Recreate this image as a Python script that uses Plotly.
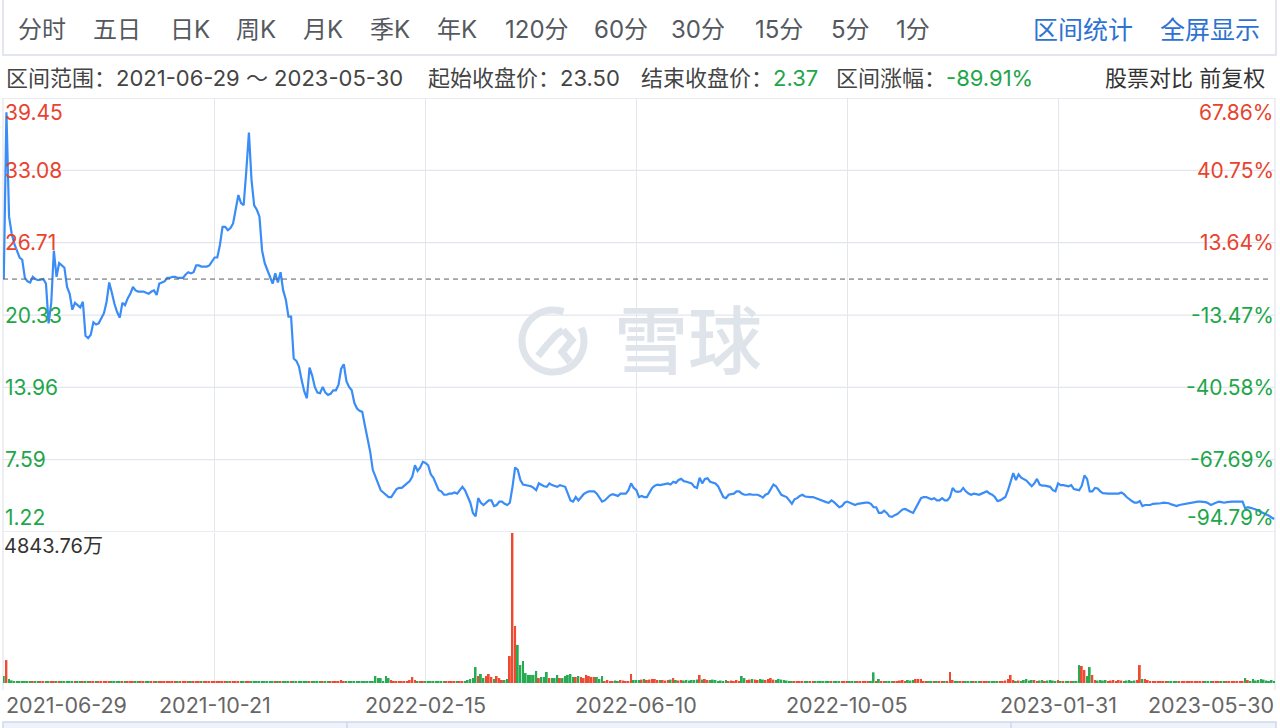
import numpy as np
import pandas as pd
import plotly.graph_objects as go

W, H = 1280, 728

# ---------------- data ----------------
start_date = "2021-06-29"
end_date = "2023-05-30"
market_holidays = [
    "2021-07-05", "2021-09-06", "2021-11-25", "2021-12-24",
    "2022-01-17", "2022-02-21", "2022-04-15", "2022-05-30", "2022-06-20",
    "2022-07-04", "2022-09-05", "2022-11-24", "2022-12-26",
    "2023-01-02", "2023-01-16", "2023-02-20", "2023-04-07", "2023-05-29",
]

close = [
    23.5, 38.2, 29.0, 27.5, 26.6, 26.0, 25.4, 25.2, 23.6, 23.3,
    23.2, 23.7, 23.5, 23.4, 23.45, 23.5, 23.1, 19.6, 21.4, 26.0,
    23.7, 24.9, 24.7, 24.5, 22.8, 22.2, 20.8, 21.4, 21.2, 21.0,
    21.5, 18.5, 18.3, 18.6, 19.7, 19.5, 19.6, 20.0, 20.5, 21.5,
    23.2, 22.3, 21.3, 20.6, 20.1, 21.4, 21.2, 21.8, 22.2, 22.8,
    22.5, 22.4, 22.4, 22.4, 22.3, 22.2, 22.4, 22.5, 22.1, 23.1,
    23.2, 23.3, 23.6, 23.6, 23.7, 23.7, 23.6, 23.6, 23.6, 23.9,
    24.1, 24.0, 24.1, 24.7, 24.7, 24.6, 24.6, 24.6, 24.7, 25.0,
    25.4, 25.4, 26.5, 28.1, 28.1, 27.8, 28.0, 28.4, 29.8, 30.9,
    30.2, 30.0, 33.0, 36.4, 32.2, 30.0, 29.6, 29.0, 26.0, 24.9,
    24.3, 23.6, 23.1, 24.0, 23.2, 24.1, 22.5, 21.7, 20.2, 20.2,
    16.5, 16.3, 15.8, 14.6, 13.6, 13.0, 15.7, 15.0, 14.0, 13.5,
    13.45, 14.0, 13.5, 13.3, 13.4, 13.7, 13.7, 14.2, 15.6, 16.0,
    14.5, 14.0, 13.7, 12.6, 12.1, 11.9, 11.8, 10.6, 9.5, 8.3,
    6.7, 6.0, 5.5, 4.9, 4.7, 4.5, 4.3, 4.3, 4.7, 5.0,
    5.1, 5.1, 5.3, 5.5, 5.7, 6.1, 7.1, 6.6, 6.9, 7.4,
    7.3, 7.1, 6.3, 6.0, 5.5, 4.9, 4.8, 4.5, 4.5, 4.6,
    4.6, 4.7, 4.6, 4.9, 5.2, 4.9, 4.4, 3.8, 2.9, 2.6,
    4.2, 3.8, 3.6, 3.8, 4.0, 4.0, 3.5, 3.6, 3.9, 3.9,
    3.7, 3.6, 3.8, 5.2, 6.9, 6.7, 5.8, 5.4, 5.35, 5.3,
    5.25, 5.1, 4.9, 5.5, 5.35, 5.25, 5.2, 5.5, 5.35, 5.25,
    5.2, 5.35, 5.3, 5.2, 4.6, 4.0, 3.9, 4.3, 4.0, 4.3,
    4.55, 4.7, 4.8, 4.8, 4.8, 4.6, 4.2, 3.9, 4.0, 4.2,
    4.45, 4.55, 4.5, 4.4, 4.6, 4.6, 4.6, 4.9, 5.5, 5.1,
    4.9, 4.3, 4.4, 4.3, 4.3, 4.7, 5.1, 5.3, 5.4, 5.35,
    5.4, 5.45, 5.5, 5.4, 5.65, 5.55, 5.8, 5.9, 5.7, 5.65,
    5.6, 5.5, 5.2, 5.1, 6.0, 5.5, 5.9, 5.95, 5.65, 5.55,
    5.5, 5.25, 4.8, 4.3, 4.2, 4.5, 4.55, 4.6, 4.8, 4.8,
    4.6, 4.5, 4.5, 4.55, 4.5, 4.5, 4.5, 4.4, 4.25, 4.5,
    4.6, 5.0, 5.4, 5.25, 4.9, 4.5, 4.4, 4.3, 4.0, 3.7,
    4.1, 4.2, 4.4, 4.5, 4.35, 4.3, 4.3, 4.3, 4.2, 4.1,
    4.0, 3.9, 3.85, 3.8, 4.0, 3.85, 3.6, 3.4, 3.5, 3.8,
    3.9, 3.8, 3.7, 3.6, 3.7, 3.75, 3.8, 3.8, 3.8, 3.7,
    3.4, 3.4, 2.9, 2.9, 3.1, 2.9, 2.6, 2.55, 2.7, 2.8,
    3.0, 3.2, 3.25, 3.1, 3.0, 2.9, 3.3, 3.7, 4.2, 4.3,
    4.3, 4.2, 4.1, 4.2, 4.0, 4.0, 4.2, 4.0, 4.0, 4.3,
    5.1, 4.8, 4.75, 4.8, 5.1, 4.8, 4.6, 4.5, 4.6, 4.55,
    4.5, 4.6, 4.7, 4.8, 4.6, 4.5, 4.3, 3.95, 4.0, 4.15,
    4.3, 4.9, 5.6, 6.4, 5.8, 6.3, 6.0, 5.9, 5.75, 5.5,
    5.25, 5.5, 5.9, 5.4, 5.3, 5.3, 5.25, 5.2, 4.9, 4.8,
    5.5, 5.35, 5.35, 5.3, 5.25, 5.35, 5.0, 4.95, 4.9, 5.3,
    6.2, 5.9, 4.8, 4.8, 5.1, 5.05, 4.8, 4.65, 4.6, 4.6,
    4.6, 4.6, 4.6, 4.6, 4.7, 4.55, 4.3, 4.1, 3.95, 3.8,
    3.8, 3.95, 3.5, 3.6, 3.6, 3.6, 3.7, 3.7, 3.7, 3.75,
    3.8, 3.8, 3.75, 3.65, 3.55, 3.5, 3.6, 3.65, 3.7, 3.75,
    3.8, 3.85, 3.9, 3.9, 3.9, 3.9, 3.85, 3.75, 3.6, 3.7,
    3.8, 3.9, 3.85, 3.8, 3.85, 3.9, 3.9, 3.9, 3.9, 3.9,
    3.9, 3.3, 3.4, 3.35, 3.3, 3.2, 3.1, 3.0, 2.9, 2.8,
    2.65, 2.5, 2.37,
]

# volume in 万 (10k shares)
volume = [
    230, 740, 130, 85, 60, 65, 45, 40, 50, 45,
    65, 45, 40, 45, 40, 42, 45, 55, 65, 50,
    45, 40, 42, 38, 40, 45, 40, 38, 42, 40,
    45, 65, 45, 40, 38, 40, 42, 38, 40, 45,
    50, 42, 40, 38, 40, 42, 40, 38, 40, 38,
    38, 40, 38, 36, 38, 40, 38, 36, 38, 40,
    38, 36, 38, 40, 36, 38, 36, 38, 40, 38,
    36, 38, 40, 38, 36, 38, 40, 38, 36, 38,
    40, 38, 40, 45, 42, 40, 42, 45, 48, 50,
    45, 42, 50, 55, 50, 45, 42, 45, 48, 45,
    42, 40, 42, 40, 40, 42, 45, 48, 45, 42,
    48, 42, 45, 42, 40, 45, 42, 40, 38, 40,
    40, 38, 40, 38, 40, 42, 45, 40, 97, 45,
    42, 40, 45, 42, 45, 48, 50, 45, 48, 55,
    60, 225, 160, 160, 60, 225, 160, 95, 60, 65,
    50, 40, 50, 65, 95, 195, 100, 60, 65, 60,
    65, 55, 60, 65, 60, 55, 60, 65, 60, 55,
    60, 65, 60, 55, 65, 60, 97, 130, 160, 515,
    225, 290, 160, 225, 290, 195, 130, 225, 160, 97,
    97, 130, 870, 4843.76, 1840, 1230, 580, 710, 320, 260,
    260, 260, 390, 160, 195, 195, 355, 160, 160, 160,
    260, 160, 160, 225, 260, 290, 195, 195, 225, 195,
    160, 260, 225, 195, 195, 195, 130, 225, 65, 97,
    65, 65, 80, 65, 97, 80, 65, 65, 290, 97,
    97, 97, 110, 130, 97, 110, 130, 130, 97, 97,
    97, 80, 97, 110, 160, 97, 80, 97, 80, 97,
    80, 97, 97, 110, 260, 110, 130, 97, 97, 110,
    97, 65, 80, 65, 97, 65, 80, 65, 97, 65,
    225, 160, 97, 110, 130, 110, 97, 130, 110, 97,
    130, 160, 110, 97, 130, 110, 97, 80, 65, 65,
    65, 50, 65, 50, 65, 50, 65, 50, 65, 50,
    65, 50, 65, 50, 65, 65, 50, 65, 50, 65,
    50, 65, 50, 45, 40, 40, 38, 40, 40, 45,
    345, 65, 130, 65, 50, 45, 50, 50, 45, 65,
    80, 97, 65, 97, 80, 97, 130, 130, 130, 65,
    50, 45, 50, 45, 50, 45, 50, 60, 65, 355,
    97, 65, 50, 65, 50, 45, 50, 50, 45, 50,
    45, 50, 45, 50, 45, 50, 55, 50, 55, 65,
    80, 130, 260, 97, 65, 80, 65, 97, 130, 80,
    97, 97, 65, 80, 97, 65, 80, 97, 80, 65,
    97, 65, 65, 65, 60, 65, 60, 65, 580, 550,
    420, 225, 515, 260, 97, 80, 97, 80, 97, 65,
    80, 97, 65, 97, 80, 65, 80, 97, 65, 80,
    97, 580, 130, 130, 97, 65, 50, 65, 50, 65,
    50, 45, 50, 65, 50, 45, 50, 45, 50, 45,
    50, 45, 50, 45, 50, 45, 50, 45, 50, 45,
    50, 45, 50, 45, 50, 45, 50, 60, 65, 60,
    65, 160, 97, 65, 130, 80, 97, 130, 110, 80,
    65, 97, 65,
]

price_ticks = [39.45, 33.08, 26.71, 20.33, 13.96, 7.59, 1.22]
pct_labels = ["67.86%", "40.75%", "13.64%", "-13.47%", "-40.58%", "-67.69%", "-94.79%"]
date_ticks = ["2021-06-29", "2021-10-21", "2022-02-15", "2022-06-10",
              "2022-10-05", "2023-01-31", "2023-05-30"]
base_price = 23.50
end_price = 2.37
period_change = "-89.91%"
vol_max = 4843.76
vol_max_label = "4843.76万"

toolbar_labels = ["分时", "五日", "日K", "周K", "月K", "季K", "年K",
                  "120分", "60分", "30分", "15分", "5分", "1分"]
toolbar_links = ["区间统计", "全屏显示"]

# ---------------- derived ----------------
dates = pd.bdate_range(start_date, end_date, freq="C",
                       holidays=market_holidays).strftime("%Y-%m-%d").tolist()
n = min(len(dates), len(close), len(volume))
dates, close, volume = dates[:n], close[:n], volume[:n]

RED = "#e8432e"
GREEN = "#1ea64a"
BAR_RED = "#ee4a32"
BAR_GREEN = "#27aa50"
LINE = "#3a8cf7"
GRID = "#e4e6ed"
FONT = "Inter, Noto Sans CJK SC, sans-serif"

bar_colors = [BAR_GREEN] + [BAR_RED if close[i] >= close[i - 1] else BAR_GREEN
                            for i in range(1, n)]


def px(x):
    return x / W


def py(y):
    return 1 - y / H


X0, X1 = 3, 1275          # plot left/right
P_TOP, P_BOT = 98, 532    # price pane
V_TOP, V_BOT = 533, 683   # volume pane

fig = go.Figure()
fig.add_trace(go.Bar(
    x=dates, y=volume, marker=dict(color=bar_colors, line=dict(width=0)),
    width=0.72, xaxis="x2", yaxis="y2", name="成交量",
))
fig.add_trace(go.Scatter(
    x=dates, y=close, mode="lines", line=dict(color=LINE, width=2.2),
    xaxis="x", yaxis="y", name="收盘价",
))

xcommon = dict(type="category", range=[-0.3, n - 1 + 0.3], showticklabels=False,
               ticks="", tickvals=date_ticks[1:-1], showgrid=True, gridcolor=GRID,
               gridwidth=1, zeroline=False, showline=False, fixedrange=True,
               domain=[px(X0), px(X1)])

shapes = []
# toolbar box
shapes.append(dict(type="rect", xref="paper", yref="paper",
                   x0=px(3), x1=px(1276), y0=py(55), y1=py(-3),
                   line=dict(color="#e3e6ee", width=2), fillcolor="white", layer="below"))
# horizontal grid lines
for v in price_ticks:
    shapes.append(dict(type="line", xref="paper", yref="y", x0=px(X0), x1=px(X1),
                       y0=v, y1=v, line=dict(color=GRID, width=1.3), layer="below"))
# base price dashed line
shapes.append(dict(type="line", xref="paper", yref="y", x0=px(X0), x1=px(1270),
                   y0=base_price, y1=base_price,
                   line=dict(color="#5e5e5e", width=1, dash="5px,4px")))
# borders
for xb in (X0, X1):
    shapes.append(dict(type="line", xref="paper", yref="paper", x0=px(xb), x1=px(xb),
                       y0=py(690), y1=py(P_TOP), line=dict(color=GRID, width=1.3),
                       layer="below"))
# bottom navigator strip
shapes.append(dict(type="rect", xref="paper", yref="paper", x0=px(3), x1=px(1276),
                   y0=py(735), y1=py(722), line=dict(color="#cfd9ea", width=1.5),
                   fillcolor="#eef3fb"))
for xb in (347, 1011):
    shapes.append(dict(type="line", xref="paper", yref="paper", x0=px(xb), x1=px(xb),
                       y0=py(728), y1=py(722), line=dict(color="#cfd9ea", width=1.5)))

# watermark logo
WM = "#dfe3ea"
cx, cy, r = 553, 341, 31
ang = np.radians(np.linspace(70, 385, 70))
ring = [(cx + r * np.cos(a), cy - r * np.sin(a)) for a in ang]
path = "M " + " L ".join(f"{px(x):.5f},{py(y):.5f}" for x, y in ring)
shapes.append(dict(type="path", xref="paper", yref="paper", path=path,
                   line=dict(color=WM, width=7), layer="below"))
inner = [(538, 356), (547, 345), (556, 335), (563, 330)]
path2 = "M " + " L ".join(f"{px(x):.5f},{py(y):.5f}" for x, y in inner)
shapes.append(dict(type="path", xref="paper", yref="paper", path=path2,
                   line=dict(color=WM, width=7), layer="below"))
inner2 = [(563, 330), (572, 340), (562, 352), (570, 362)]
path3 = "M " + " L ".join(f"{px(x):.5f},{py(y):.5f}" for x, y in inner2)
shapes.append(dict(type="path", xref="paper", yref="paper", path=path3,
                   line=dict(color=WM, width=7), layer="below"))

ann = []


def text(x, y, s, size, color, xanchor="left", yanchor="middle", xref="paper", weight=None):
    f = dict(family=FONT, size=size, color=color)
    if weight:
        f["weight"] = weight
    ann.append(dict(x=px(x) if xref == "paper" else x, y=py(y), xref=xref, yref="paper",
                    text=s, showarrow=False, xanchor=xanchor, yanchor=yanchor, font=f))


# toolbar
toolbar_x = [42, 117, 190, 256, 323, 390, 457, 537, 621, 698, 779, 850, 913]
for lab, xx in zip(toolbar_labels, toolbar_x):
    text(xx, 30, lab, 24, "#55595f", xanchor="center")
for lab, xx in zip(toolbar_links, [1083, 1210]):
    text(xx, 30, lab, 25, "#2e72d2", xanchor="center")

# info bar
text(4, 78, f"区间范围：{dates[0]} ～ {dates[-1]}", 22, "#444")
text(426, 78, f"起始收盘价：{base_price:.2f}", 22, "#444")
text(639, 78, f"结束收盘价：<span style='color:{GREEN}'>{end_price:.2f}</span>", 22, "#444")
text(834, 78, f"区间涨幅：<span style='color:{GREEN}'>{period_change}</span>", 22, "#444")
text(1267, 78, "股票对比 前复权", 22, "#333", xanchor="right")

# price labels (left) and percent labels (right)
for k, (v, pl) in enumerate(zip(price_ticks, pct_labels)):
    col = RED if v > base_price else GREEN
    ypix = P_TOP + (price_ticks[0] - v) / (price_ticks[0] - price_ticks[-1]) * (P_BOT - P_TOP)
    if k == 0:
        ya, yy = "top", ypix
    elif k == len(price_ticks) - 1:
        ya, yy = "bottom", ypix
    else:
        ya, yy = "middle", ypix
    text(3, yy, f"{v:.2f}", 21, col, yanchor=ya)
    text(1276, yy, pl, 21, col, xanchor="right", yanchor=ya)

# volume max label
text(2, 546, vol_max_label, 20, "#333")

# date labels
for k, d in enumerate(date_ticks):
    if k == 0:
        text(4, 705, d, 21.5, "#666")
    elif k == len(date_ticks) - 1:
        text(1276, 705, d, 21.5, "#666", xanchor="right")
    else:
        ann.append(dict(x=d, y=py(705), xref="x", yref="paper", text=d, showarrow=False,
                        xanchor="center", yanchor="middle",
                        font=dict(family=FONT, size=21.5, color="#666")))

# watermark text
text(688, 341, "雪球", 74, WM, xanchor="center", weight=500)

fig.update_layout(
    width=W, height=H, autosize=False,
    margin=dict(l=0, r=0, t=0, b=0, pad=0),
    paper_bgcolor="white", plot_bgcolor="rgba(0,0,0,0)",
    showlegend=False, hovermode="x",
    xaxis=dict(**xcommon, anchor="y"),
    xaxis2=dict(**xcommon, anchor="y2", matches="x"),
    yaxis=dict(domain=[py(P_BOT), py(P_TOP)], range=[price_ticks[-1], price_ticks[0]],
               showgrid=False, showticklabels=False, zeroline=False, ticks="",
               fixedrange=True),
    yaxis2=dict(domain=[py(V_BOT), py(V_TOP)], range=[0, vol_max],
                showgrid=False, showticklabels=False, zeroline=False, ticks="",
                fixedrange=True),
    shapes=shapes, annotations=ann,
    font=dict(family=FONT),
)

fig.write_html("out.html", include_plotlyjs=True, full_html=True,
               config={"displayModeBar": False},
               post_script="document.body.style.margin='0';document.body.style.overflow='hidden';")
